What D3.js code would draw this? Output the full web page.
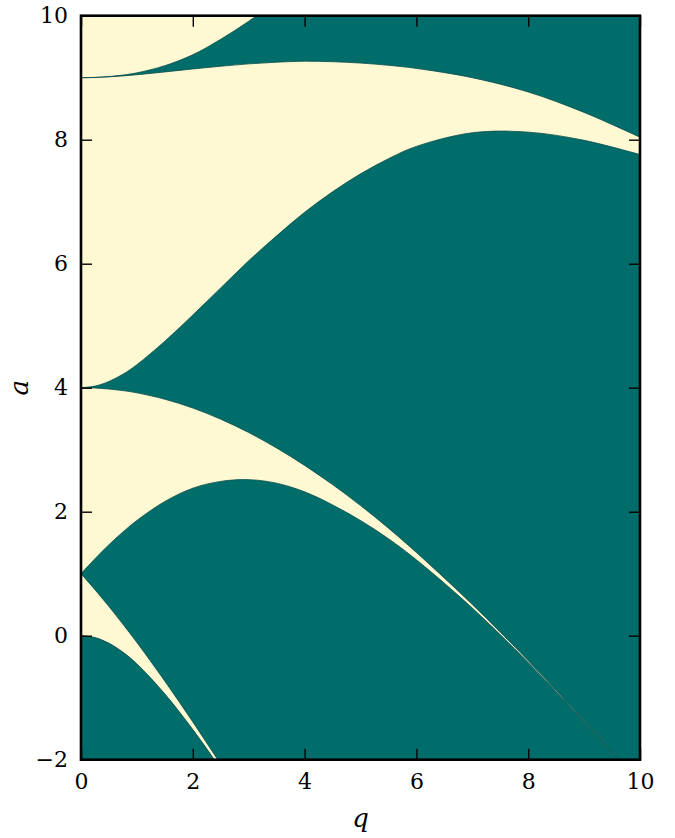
<!DOCTYPE html>
<html>
<head>
<meta charset="utf-8">
<script src="https://cdn.jsdelivr.net/npm/d3@7/dist/d3.min.js"></script>
<style>
  html, body { margin: 0; padding: 0; background: #ffffff; }
  svg { display: block; }
</style>
</head>
<body>
<svg id="chart" width="675" height="838"></svg>
<script>
// ---- Data: Mathieu stability boundaries (a vs q) ----
const xTicks = [0, 2, 4, 6, 8, 10];
const yTicks = [-2, 0, 2, 4, 6, 8, 10];

// a0(q) : lower boundary of the first stable band
const qA0 = [0, 0.25, 0.5, 0.75, 1, 1.5, 2, 2.5, 3];
const a0  = [0, -0.031, -0.122, -0.266, -0.455, -0.94, -1.514, -2.15, -2.834];

// b1(q)
const qB1 = [0, 0.25, 0.5, 0.75, 1, 1.5, 2, 2.5, 3];
const b1  = [1, 0.742, 0.471, 0.186, -0.110, -0.733, -1.391, -2.075, -2.785];

// shared q grid for a1, b2, a2, b3
const qMain = [0, 0.25, 0.5, 0.75, 1, 1.5, 2, 2.5, 3, 3.5, 4, 4.5, 5, 5.5, 6, 7, 8, 9, 10];
const a1 = [1, 1.242, 1.467, 1.673, 1.859, 2.165, 2.379, 2.489, 2.517, 2.460, 2.320, 2.110, 1.858, 1.565, 1.224, 0.446, -0.432, -1.385, -2.399];
const b2 = [4, 3.995, 3.979, 3.953, 3.917, 3.814, 3.672, 3.492, 3.277, 3.027, 2.747, 2.437, 2.100, 1.735, 1.342, 0.503, -0.404, -1.371, -2.392];
const a2 = [4, 4.026, 4.101, 4.217, 4.371, 4.750, 5.172, 5.610, 6.047, 6.450, 6.829, 7.160, 7.449, 7.694, 7.892, 8.112, 8.122, 7.990, 7.760];
const b3 = [9, 9.004, 9.014, 9.029, 9.048, 9.093, 9.141, 9.185, 9.223, 9.250, 9.266, 9.258, 9.236, 9.200, 9.150, 9.000, 8.770, 8.440, 8.040];

// a3(q)
const qA3 = [0, 0.25, 0.5, 0.75, 1, 1.5, 2, 2.5, 3, 3.5, 4];
const a3  = [9, 9.004, 9.018, 9.042, 9.078, 9.194, 9.370, 9.620, 9.910, 10.24, 10.60];

const xDomain = [0, 10];
const yDomain = [-2, 10];

(function () {
// ---- Layout ----
const pL = 81, pR = 640, pT = 15.7, pB = 759.7;
const TEAL = "#006d6a";
const CREAM = "#fff9d3";
const EDGE = "#0b4e4c";

const svg = d3.select("#chart");
const x = d3.scaleLinear().domain(xDomain).range([pL, pR]);
const y = d3.scaleLinear().domain(yDomain).range([pB, pT]);

const curve = d3.curveCatmullRom.alpha(0.5);
const pts = (qs, vs) => qs.map((q, i) => ({ q: q, v: vs[i] }));

svg.append("defs").append("clipPath").attr("id", "plotclip")
  .append("rect").attr("x", pL).attr("y", pT)
  .attr("width", pR - pL).attr("height", pB - pT);

const g = svg.append("g").attr("clip-path", "url(#plotclip)");

g.append("rect").attr("x", pL).attr("y", pT)
  .attr("width", pR - pL).attr("height", pB - pT).attr("fill", CREAM);

const areaTo = (yConst) => d3.area().curve(curve)
  .x(d => x(d.q)).y0(() => yConst).y1(d => y(d.v));

const areaBetween = d3.area().curve(curve)
  .x(d => x(d.lo.q)).y0(d => y(d.lo.v)).y1(d => y(d.hi.v));

const pair = (qs, lo, hi) => qs.map((q, i) => ({ lo: { q: q, v: lo[i] }, hi: { q: q, v: hi[i] } }));

g.append("path").datum(pts(qMain, b3)).attr("d", areaTo(pT - 20)).attr("fill", TEAL);
g.append("path").datum(pts(qA3, a3)).attr("d", areaTo(pT - 20)).attr("fill", CREAM);
g.append("path").datum(pair(qMain, b2, a2)).attr("d", areaBetween).attr("fill", TEAL);
g.append("path").datum(pts(qMain, a1)).attr("d", areaTo(pB + 20)).attr("fill", TEAL);
g.append("path").datum(pair(qB1, a0, b1)).attr("d", areaBetween).attr("fill", CREAM);
g.append("path").datum(pts(qA0, a0)).attr("d", areaTo(pB + 20)).attr("fill", TEAL);

const line = d3.line().curve(curve).x(d => x(d.q)).y(d => y(d.v));
[[qA0, a0], [qB1, b1], [qMain, a1], [qMain, b2], [qMain, a2], [qMain, b3], [qA3, a3]].forEach(([qs, vs]) => {
  g.append("path").datum(pts(qs, vs)).attr("d", line)
    .attr("fill", "none").attr("stroke", EDGE).attr("stroke-width", 1).attr("stroke-opacity", 0.8);
});

// ---- Axes ----
const tickLen = 11;
const axes = svg.append("g");
const font = "'DejaVu Serif', 'Liberation Serif', serif";

const xAxisB = d3.axisBottom(x).tickValues(xTicks).tickSizeInner(-tickLen).tickSizeOuter(0).tickPadding(14)
  .tickFormat(d3.format("d"));
const xAxisT = d3.axisTop(x).tickValues(xTicks).tickSizeInner(-tickLen).tickSizeOuter(0).tickFormat("");
const fmtY = d => (d < 0 ? "\u2212" + Math.abs(d) : String(d));
const yAxisL = d3.axisLeft(y).tickValues(yTicks).tickSizeInner(-tickLen).tickSizeOuter(0).tickPadding(13)
  .tickFormat(fmtY);
const yAxisR = d3.axisRight(y).tickValues(yTicks).tickSizeInner(-tickLen).tickSizeOuter(0).tickFormat("");

const gxb = axes.append("g").attr("transform", `translate(0,${pB})`).call(xAxisB);
const gxt = axes.append("g").attr("transform", `translate(0,${pT})`).call(xAxisT);
const gyl = axes.append("g").attr("transform", `translate(${pL},0)`).call(yAxisL);
const gyr = axes.append("g").attr("transform", `translate(${pR},0)`).call(yAxisR);

[gxb, gxt, gyl, gyr].forEach(a => {
  a.select(".domain").remove();
  a.selectAll(".tick line").attr("stroke", "#000").attr("stroke-width", 1.4);
  a.selectAll(".tick text").attr("fill", "#000").attr("font-family", font).attr("font-size", 22);
});

svg.append("rect").attr("x", pL).attr("y", pT)
  .attr("width", pR - pL).attr("height", pB - pT)
  .attr("fill", "none").attr("stroke", "#000").attr("stroke-width", 2.6);

svg.append("text").attr("x", (pL + pR) / 2).attr("y", 827)
  .attr("text-anchor", "middle").attr("font-family", font).attr("font-style", "italic")
  .attr("font-size", 26).attr("fill", "#000").text("q");
svg.append("text").attr("transform", `translate(28,${y(4)}) rotate(-90)`)
  .attr("text-anchor", "middle").attr("font-family", font).attr("font-style", "italic")
  .attr("font-size", 26).attr("fill", "#000").text("a");
})();
</script>
</body>
</html>
